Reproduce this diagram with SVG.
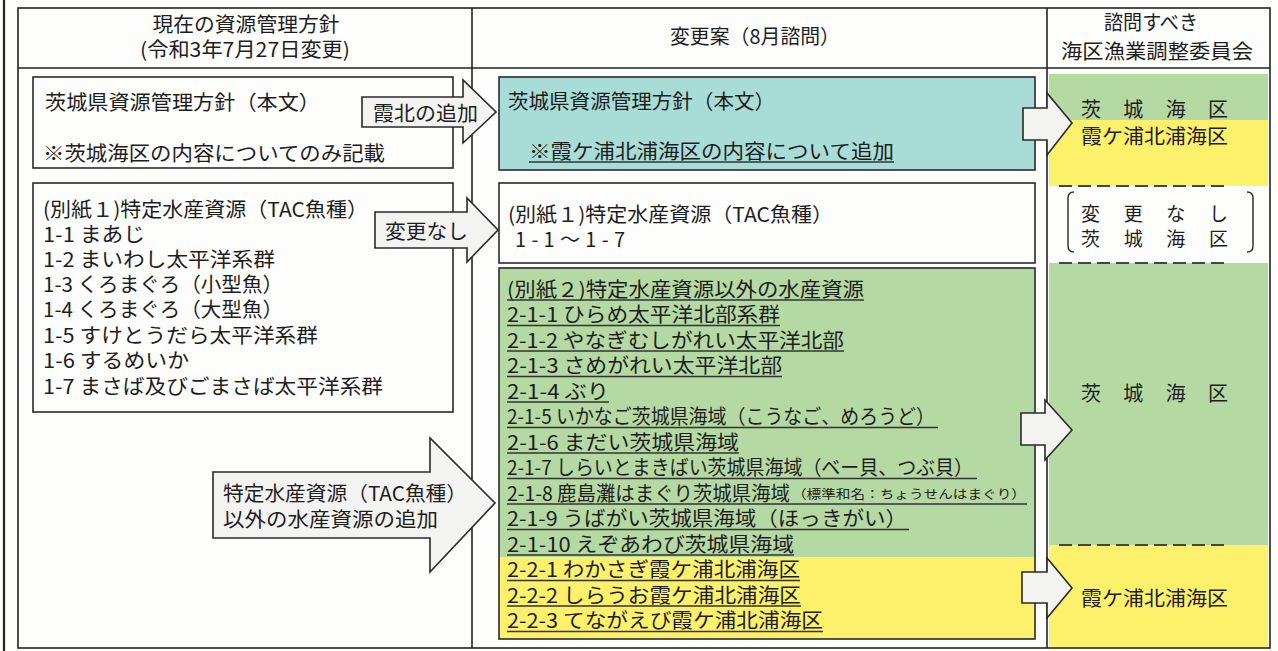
<svg xmlns="http://www.w3.org/2000/svg" width="1278" height="651" viewBox="0 0 1278 651">
<style>
text{font-family:"Noto Sans CJK JP","Noto Sans",sans-serif;font-size:20px;fill:#1e1e1e;dominant-baseline:central}
.box{stroke:#2a2a2a;stroke-width:1.6}
.arrow{fill:#f3f3f1;stroke:#2a2a2a;stroke-width:1.6;stroke-linejoin:miter}
.ul{stroke:#333;stroke-width:1.3}
.dash{stroke:#444;stroke-width:2.2;stroke-dasharray:13 6}
.grid{stroke:#222;stroke-width:1.6;fill:none}
.l{font-size:20.5px}
</style>
<rect x="0" y="0" width="1278" height="651" fill="#fdfdfb"/>
<g id="frame">
<line x1="4" y1="0" x2="4" y2="651" stroke="#222" stroke-width="2.2"/>
<rect class="grid" x="18" y="8" width="1252" height="640"/>
<line class="grid" x1="18" y1="68" x2="1270" y2="68"/>
<line class="grid" x1="472" y1="8" x2="472" y2="648"/>
<line class="grid" x1="1047" y1="8" x2="1047" y2="648"/>
</g>
<g id="header">
<text x="246" y="23" text-anchor="middle" textLength="187" lengthAdjust="spacingAndGlyphs">現在の資源管理方針</text>
<text x="245" y="48" text-anchor="middle" textLength="210" lengthAdjust="spacingAndGlyphs">(令和3年7月27日変更)</text>
<text x="755" y="35" text-anchor="middle" textLength="170" lengthAdjust="spacingAndGlyphs">変更案（8月諮問）</text>
<text x="1151" y="21" text-anchor="middle" textLength="94" lengthAdjust="spacingAndGlyphs">諮問すべき</text>
<text x="1157" y="50" text-anchor="middle" textLength="192" lengthAdjust="spacingAndGlyphs">海区漁業調整委員会</text>
</g>
<g id="right-column">
<rect x="1049" y="74" width="219" height="46" fill="#b5d9a2"/>
<rect x="1049" y="120" width="219" height="66" fill="#fdf06b"/>
<rect x="1049" y="263" width="219" height="282" fill="#b5d9a2"/>
<rect x="1049" y="545" width="219" height="102" fill="#fdf06b"/>
<line class="dash" x1="1059" y1="186" x2="1228" y2="186"/>
<line class="dash" x1="1059" y1="263" x2="1228" y2="263"/>
<line class="dash" x1="1059" y1="545" x2="1228" y2="545"/>
</g>
<g id="current-honbun">
<rect class="box" x="33" y="77" width="420" height="91" fill="#fdfdfb"/>
<text x="45" y="101" class="l" textLength="275" lengthAdjust="spacingAndGlyphs">茨城県資源管理方針（本文）</text>
<text x="43" y="152" class="l" textLength="342" lengthAdjust="spacingAndGlyphs">※茨城海区の内容についてのみ記載</text>
</g>
<g id="current-bessi1">
<rect class="box" x="33" y="183" width="420" height="229" fill="#fdfdfb"/>
<text x="43" y="208" class="l" textLength="325" lengthAdjust="spacingAndGlyphs">(別紙１)特定水産資源（TAC魚種）</text>
<text x="43" y="233" class="l" textLength="102" lengthAdjust="spacingAndGlyphs">1-1 まあじ</text>
<text x="43" y="258" class="l" textLength="232" lengthAdjust="spacingAndGlyphs">1-2 まいわし太平洋系群</text>
<text x="43" y="283" class="l" textLength="240" lengthAdjust="spacingAndGlyphs">1-3 くろまぐろ（小型魚）</text>
<text x="43" y="308" class="l" textLength="240" lengthAdjust="spacingAndGlyphs">1-4 くろまぐろ（大型魚）</text>
<text x="43" y="334" class="l" textLength="275" lengthAdjust="spacingAndGlyphs">1-5 すけとうだら太平洋系群</text>
<text x="43" y="359" class="l" textLength="146" lengthAdjust="spacingAndGlyphs">1-6 するめいか</text>
<text x="43" y="385" class="l" textLength="340" lengthAdjust="spacingAndGlyphs">1-7 まさば及びごまさば太平洋系群</text>
</g>
<g id="proposal-honbun">
<rect class="box" x="499" y="77" width="536" height="93" fill="#a8dcd6"/>
<text x="508" y="100" textLength="267" lengthAdjust="spacingAndGlyphs">茨城県資源管理方針（本文）</text>
<text x="529" y="150" textLength="365" lengthAdjust="spacingAndGlyphs">※霞ケ浦北浦海区の内容について追加</text>
<line class="ul" x1="529" y1="162" x2="894" y2="162"/>
</g>
<g id="proposal-bessi1">
<rect class="box" x="499" y="183" width="536" height="80" fill="#fdfdfb"/>
<text x="508" y="213" textLength="325" lengthAdjust="spacingAndGlyphs">(別紙１)特定水産資源（TAC魚種）</text>
<text x="515" y="238" textLength="110" lengthAdjust="spacing">1-1～1-7</text>
</g>
<g id="proposal-bessi2">
<rect x="499" y="268" width="536" height="289" fill="#b5d9a2"/>
<rect x="499" y="557" width="536" height="82" fill="#fdf06b"/>
<rect class="box" x="499" y="268" width="536" height="371" fill="none"/>
<text x="507" y="288" textLength="357" lengthAdjust="spacingAndGlyphs">(別紙２)特定水産資源以外の水産資源</text>
<text x="507" y="313.5" textLength="273" lengthAdjust="spacingAndGlyphs">2-1-1 ひらめ太平洋北部系群</text>
<text x="507" y="339" textLength="337" lengthAdjust="spacingAndGlyphs">2-1-2 やなぎむしがれい太平洋北部</text>
<text x="507" y="364.5" textLength="275" lengthAdjust="spacingAndGlyphs">2-1-3 さめがれい太平洋北部</text>
<text x="507" y="390" textLength="102" lengthAdjust="spacingAndGlyphs">2-1-4 ぶり</text>
<text x="507" y="415.5" textLength="428" lengthAdjust="spacingAndGlyphs">2-1-5 いかなご茨城県海域（こうなご、めろうど）</text>
<text x="507" y="441" textLength="232" lengthAdjust="spacingAndGlyphs">2-1-6 まだい茨城県海域</text>
<text x="507" y="466.5" textLength="466" lengthAdjust="spacingAndGlyphs">2-1-7 しらいとまきばい茨城県海域（ベー貝、つぶ貝）</text>
<text x="507" y="492" textLength="283" lengthAdjust="spacingAndGlyphs">2-1-8 鹿島灘はまぐり茨城県海域</text>
<text x="792" y="493" style="font-size:12.5px" textLength="234" lengthAdjust="spacingAndGlyphs">（標準和名：ちょうせんはまぐり）</text>
<text x="507" y="517.5" textLength="400" lengthAdjust="spacingAndGlyphs">2-1-9 うばがい茨城県海域（ほっきがい）</text>
<text x="507" y="543" textLength="287" lengthAdjust="spacingAndGlyphs">2-1-10 えぞあわび茨城県海域</text>
<text x="507" y="568.5" textLength="293" lengthAdjust="spacingAndGlyphs">2-2-1 わかさぎ霞ケ浦北浦海区</text>
<text x="507" y="594" textLength="294" lengthAdjust="spacingAndGlyphs">2-2-2 しらうお霞ケ浦北浦海区</text>
<text x="507" y="619.5" textLength="316" lengthAdjust="spacingAndGlyphs">2-2-3 てながえび霞ケ浦北浦海区</text>
<g class="ul">
<line x1="507" y1="300" x2="864" y2="300"/>
<line x1="507" y1="325.5" x2="780" y2="325.5"/>
<line x1="507" y1="351" x2="844" y2="351"/>
<line x1="507" y1="376.5" x2="782" y2="376.5"/>
<line x1="507" y1="402" x2="609" y2="402"/>
<line x1="507" y1="427.5" x2="938" y2="427.5"/>
<line x1="507" y1="453" x2="739" y2="453"/>
<line x1="507" y1="478.5" x2="977" y2="478.5"/>
<line x1="507" y1="504" x2="1027" y2="504"/>
<line x1="507" y1="529.5" x2="909" y2="529.5"/>
<line x1="507" y1="555" x2="794" y2="555"/>
<line x1="507" y1="580.5" x2="800" y2="580.5"/>
<line x1="507" y1="606" x2="801" y2="606"/>
<line x1="507" y1="631.5" x2="823" y2="631.5"/>
</g>
</g>
<g id="committee-top">
<text x="1081" y="108" textLength="147" lengthAdjust="spacing">茨城海区</text>
<text x="1081" y="135" textLength="147" lengthAdjust="spacingAndGlyphs">霞ケ浦北浦海区</text>
</g>
<g id="committee-nochange">
<path d="M1074,192 Q1068,192 1068,198 L1068,246 Q1068,252 1074,252" fill="none" stroke="#333" stroke-width="1.5"/>
<path d="M1247,192 Q1253,192 1253,198 L1253,246 Q1253,252 1247,252" fill="none" stroke="#333" stroke-width="1.5"/>
<text x="1081" y="212" textLength="147" lengthAdjust="spacing" style="font-size:19px">変更なし</text>
<text x="1081" y="237" textLength="147" lengthAdjust="spacing" style="font-size:19px">茨城海区</text>
</g>
<g id="committee-ibaraki">
<text x="1081" y="392" textLength="147" lengthAdjust="spacing">茨城海区</text>
</g>
<g id="committee-kasumi">
<text x="1081" y="597" textLength="147" lengthAdjust="spacingAndGlyphs">霞ケ浦北浦海区</text>
</g>
<g id="connectors">
<polygon class="arrow" points="362,97 463,97 463,80 496,112 463,143 463,127 362,127"/>
<text x="373" y="112" textLength="105" lengthAdjust="spacingAndGlyphs">霞北の追加</text>
<polygon class="arrow" points="375,212 467,212 467,198 498,230 467,262 467,248 375,248"/>
<text x="385" y="230" textLength="83" lengthAdjust="spacingAndGlyphs">変更なし</text>
<polygon class="arrow" points="213,472 430,472 430,438 495,503 430,572 430,538 213,538"/>
<text x="223" y="492" textLength="244" lengthAdjust="spacingAndGlyphs">特定水産資源（TAC魚種）</text>
<text x="223" y="518" textLength="215" lengthAdjust="spacingAndGlyphs">以外の水産資源の追加</text>
<polygon class="arrow" points="1023,108 1047,108 1047,93 1072,123 1047,155 1047,140 1023,140"/>
<polygon class="arrow" points="1021,413 1045,413 1045,400 1072,430 1045,460 1045,445 1021,445"/>
<polygon class="arrow" points="1022,572 1047,572 1047,558 1072,588 1047,618 1047,603 1022,603"/>
</g>
</svg>
